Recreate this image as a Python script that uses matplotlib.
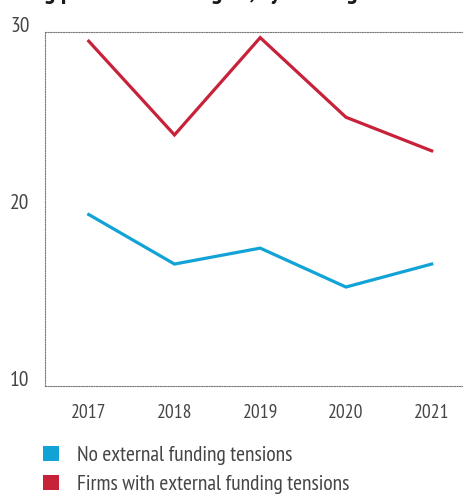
import matplotlib
matplotlib.use("Agg")
import matplotlib.pyplot as plt
from matplotlib.patches import Patch
from matplotlib import font_manager

# Share of firms (%) by funding situation
years = [2017, 2018, 2019, 2020, 2021]
no_tensions = [19.7, 16.9, 17.8, 15.6, 16.9]
with_tensions = [29.5, 24.2, 29.7, 25.2, 23.3]
series_labels = ["No external funding tensions", "Firms with external funding tensions"]
y_ticks = [10, 20, 30]

BLUE = "#12a3d6"
RED = "#c8213a"
TEXT = "#454545"

# pick a narrow sans if one is installed
names = {f.name for f in font_manager.fontManager.ttflist}
for cand in ["PT Sans Narrow", "Fira Sans Condensed", "Archivo Narrow",
             "Roboto Condensed", "Liberation Sans Narrow", "DejaVu Sans"]:
    if cand in names:
        family = cand
        break
plt.rcParams["font.family"] = [family, "DejaVu Sans"]

fig = plt.figure(figsize=(4.64, 4.95), dpi=100)
ax = fig.add_axes([0.097, 0.22, 0.903, 0.7147])

ax.plot(years, no_tensions, color=BLUE, lw=2.3, solid_joinstyle="miter")
ax.plot(years, with_tensions, color=RED, lw=2.3, solid_joinstyle="miter")

ax.set_xlim(2016.49, 2021.377)
ax.set_ylim(10, 30)
ax.set_xticks(years)
ax.set_xticklabels([str(y) for y in years], fontsize=14, color=TEXT)
ax.set_yticks(y_ticks)
ax.set_yticklabels([str(v) for v in y_ticks], fontsize=15.5, color=TEXT, va="baseline")
ax.tick_params(axis="both", length=0)
ax.tick_params(axis="x", pad=13)
ax.tick_params(axis="y", pad=11)

# dotted frame: top, bottom and left only
ax.spines["right"].set_visible(False)
for side in ["top", "bottom", "left"]:
    ax.spines[side].set_linestyle((0, (1, 1.3)))
    ax.spines[side].set_color("#7a7a7a")
    ax.spines[side].set_linewidth(0.8)

# title sits above the frame and runs off the top edge
fig.text(-0.36, 0.992, "Share of firms reporting pressure on margins, by funding",
         fontsize=19, fontweight="bold", color="#1a1a1a", va="bottom", ha="left")

handles = [Patch(facecolor=BLUE, edgecolor="none"), Patch(facecolor=RED, edgecolor="none")]
fig.legend(handles, series_labels, loc="upper left", bbox_to_anchor=(0.092, 0.1),
           frameon=False, fontsize=15.5, labelcolor=TEXT, handlelength=0.75,
           handleheight=0.75, handletextpad=0.85, labelspacing=0.45, borderaxespad=0,
           borderpad=0)

fig.savefig("out.png", dpi=100)
